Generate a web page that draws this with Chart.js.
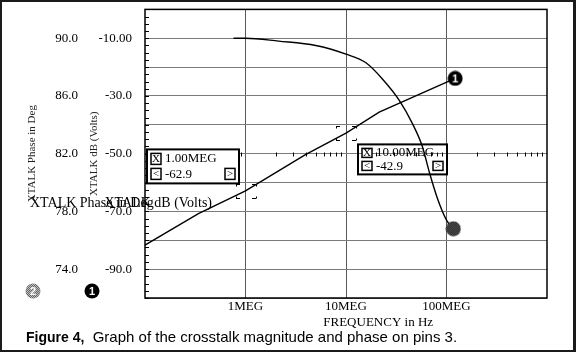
<!DOCTYPE html>
<html>
<head>
<meta charset="utf-8">
<script src="https://cdn.jsdelivr.net/npm/chart.js@4.4.1/dist/chart.umd.min.js"></script>
<style>
    html, body { margin: 0; padding: 0; background: #fff; }
    #wrap { position: relative; width: 576px; height: 352px; overflow: hidden; }
    #chart { position: absolute; left: 0; top: 0; }
    #frame {
        position: absolute; left: 0; top: 0; width: 576px; height: 352px;
        box-sizing: border-box; border: 2px solid #1a1a1a; border-right-width: 3px;
        pointer-events: none;
    }
    #caption {
        position: absolute; left: 26px; top: 328px;
        font: 15px "Liberation Sans", Arial, sans-serif; color: #000; white-space: pre;
    }
    #caption b { font-size: 14px; }
</style>
</head>
<body>
<div id="wrap">
    <canvas id="chart" width="576" height="352"></canvas>
    <div id="frame"></div>
    <div id="caption"><b>Figure 4,</b>  Graph of the crosstalk magnitude and phase on pins 3.</div>
</div>
<script>
// Данные

// Амплитуда перекрёстной помехи, dB
const magFreq = [1e5, 3.4e5, 1e6, 3.95e6, 1e7, 2.14e7, 1.22e8];
const magDb = [-81.7, -70.8, -62.9, -50.3, -42.9, -35.6, -23.9];

// Фаза, градусы
const phaseFreq = [7.6e5, 1e6, 2.14e6, 5e6, 1e7, 1.58e7, 2.29e7, 3.39e7, 4.57e7, 5.75e7, 6.76e7, 8.13e7, 1e8, 1.17e8];
const phaseDeg = [90.0, 90.0, 89.8, 89.5, 88.9, 88.3, 87.2, 85.7, 84.1, 82.5, 80.7, 78.9, 77.4, 76.8];

// Подписи осей
const freqTickValues = [1e6, 1e7, 1e8];
const freqTickLabels = ['1MEG', '10MEG', '100MEG'];
const dbTickValues = [-10, -30, -50, -70, -90];
const dbTickLabels = ['-10.00', '-30.0', '-50.0', '-70.0', '-90.0'];
const phaseTickValues = [74, 78, 82, 86, 90];
const phaseTickLabels = ['74.0', '78.0', '82.0', '86.0', '90.0'];

// Курсоры (окошки с отсчётами)
const cursorFreq = [1e6, 1e7];
const cursorFreqLabels = ['1.00MEG', '10.00MEG'];
const cursorDb = [-62.9, -42.9];

const serif = '"Liberation Serif", "Times New Roman", serif';
const tickFont = { family: serif, size: 13 };

// Значки маркеров 1 и 2
function makeMarker(label, dark, light, textColor) {
    const c = document.createElement('canvas');
    c.width = 16;
    c.height = 16;
    const g = c.getContext('2d');
    g.save();
    g.beginPath();
    g.arc(8, 8, 7.5, 0, Math.PI * 2);
    g.clip();
    for (let yy = 0; yy < 16; yy++) {
        for (let xx = 0; xx < 16; xx++) {
            g.fillStyle = (xx + yy) % 2 ? dark : light;
            g.fillRect(xx, yy, 1, 1);
        }
    }
    g.restore();
    if (label) {
        g.fillStyle = textColor;
        g.font = 'bold 11px "Liberation Sans", Arial, sans-serif';
        g.textAlign = 'center';
        g.textBaseline = 'middle';
        g.fillText(label, 8, 8.5);
    }
    return c;
}

const marker1 = makeMarker('1', '#000', '#000', '#fff');
const marker2 = makeMarker('', '#000', '#7a7a7a', '#fff');
const legend2 = makeMarker('2', '#666', '#bdbdbd', '#fff');

function lastOnly(len, r) {
    return ctx => (ctx.dataIndex === len - 1 ? r : 0);
}

// убираем отступы под крайние подписи, чтобы область графика шла от самого верха
function noEdgePadding(s) {
    s.paddingTop = 0;
    s.paddingBottom = 0;
}

// Маленькая иконка-кнопка в окошке курсора
function drawIcon(g, x, y, w, h, glyph) {
    g.fillStyle = '#fff';
    g.fillRect(x, y, w, h);
    g.strokeStyle = '#000';
    g.lineWidth = 1.5;
    g.strokeRect(x, y, w, h);
    g.fillStyle = '#000';
    g.font = '11px ' + serif;
    g.textAlign = 'center';
    g.textBaseline = 'middle';
    g.fillText(glyph, x + w / 2, y + h / 2 + 0.5);
}

function drawReadout(g, x0, y0, w, h, freqText, valText, fill) {
    if (fill) {
        g.fillStyle = '#fff';
        g.fillRect(x0, y0, w, h);
    }
    g.strokeStyle = '#000';
    g.lineWidth = 2;
    g.strokeRect(x0, y0, w, h);
    const rowH = h / 2;
    drawIcon(g, x0 + 4, y0 + 4, 10, rowH - 6, 'X');
    drawIcon(g, x0 + 4, y0 + rowH + 2, 10, rowH - 6, '<');
    drawIcon(g, x0 + w - 14, y0 + rowH + 2, 10, rowH - 6, '>');
    g.fillStyle = '#000';
    g.font = '13px ' + serif;
    g.textAlign = 'left';
    g.textBaseline = 'middle';
    g.fillText(freqText, x0 + 18, y0 + rowH / 2 + 1);
    g.fillText(valText, x0 + 18, y0 + rowH * 1.5);
}

const extrasPlugin = {
    id: 'extras',
    afterDraw(chart) {
        const g = chart.ctx;
        const a = chart.chartArea;
        const xs = chart.scales.x;
        const ys = chart.scales.y;
        g.save();

        // мелкие риски на левой границе
        g.strokeStyle = '#000';
        g.lineWidth = 1;
        g.beginPath();
        for (let v = -100; v <= 0; v += 2.5) {
            const py = Math.round(ys.getPixelForValue(v)) + 0.5;
            g.moveTo(a.left, py);
            g.lineTo(a.left + 4, py);
        }
        // логарифмические риски вдоль линии -50
        const yMid = Math.round(ys.getPixelForValue(-50)) + 0.5;
        for (let d = 1e5; d < 1e9; d *= 10) {
            for (let m = 2; m <= 9; m++) {
                const px = Math.round(xs.getPixelForValue(d * m)) + 0.5;
                g.moveTo(px, yMid - 2);
                g.lineTo(px, yMid + 2);
            }
        }
        g.stroke();

        // рамка области графика
        g.strokeStyle = '#000';
        g.lineWidth = 1.5;
        g.strokeRect(a.left, a.top, a.right - a.left, a.bottom - a.top);

        // скобки курсоров
        g.lineWidth = 1;
        g.beginPath();
        cursorFreq.forEach((f, i) => {
            const cx = Math.round(xs.getPixelForValue(f));
            const cy = Math.round(ys.getPixelForValue(cursorDb[i]));
            [[-1, -1], [1, -1], [-1, 1], [1, 1]].forEach(([sx, sy]) => {
                const mx = cx + sx * 8;
                const my = cy + sy * 7 + 0.5;
                g.moveTo(mx - 2, my);
                g.lineTo(mx + 2, my);
                g.moveTo(mx + sx * 2 + 0.5, my);
                g.lineTo(mx + sx * 2 + 0.5, my - sy * 2);
            });
        });
        g.stroke();

        // окошки отсчётов
        drawReadout(g, a.left + 2, a.top + 140, 92, 34,
            cursorFreqLabels[0], cursorDb[0].toFixed(1), true);
        drawReadout(g, a.left + 213, a.top + 135, 89, 30,
            cursorFreqLabels[1], cursorDb[1].toFixed(1), false);

        // подпись оси X
        g.fillStyle = '#000';
        g.font = '13px ' + serif;
        g.textAlign = 'center';
        g.textBaseline = 'middle';
        g.fillText('FREQUENCY in Hz', a.left + (a.right - a.left) * 0.58, a.bottom + 25);

        // горизонтальные (наложенные) подписи осей
        g.font = '14px ' + serif;
        g.textAlign = 'left';
        g.fillText('XTALK Phase in Deg', 30, 203);
        g.textAlign = 'right';
        g.fillText('XTALK dB (Volts)', 212, 203);

        // значки серий под осями
        g.drawImage(legend2, 33 - 8, a.bottom - 15);
        g.drawImage(marker1, 92 - 8, a.bottom - 15);

        g.restore();
    }
};

const ctx = document.getElementById('chart');

new Chart(ctx, {
    type: 'line',
    data: {
        datasets: [
            {
                label: 'XTALK Phase in Deg',
                data: phaseFreq.map((f, i) => ({ x: f, y: phaseDeg[i] })),
                yAxisID: 'y2',
                borderColor: '#000',
                borderWidth: 1.4,
                cubicInterpolationMode: 'monotone',
                pointRadius: lastOnly(phaseFreq.length, 8),
                pointStyle: marker2
            },
            {
                label: 'XTALK dB (Volts)',
                data: magFreq.map((f, i) => ({ x: f, y: magDb[i] })),
                yAxisID: 'y',
                borderColor: '#000',
                borderWidth: 1.4,
                tension: 0,
                pointRadius: lastOnly(magFreq.length, 8),
                pointStyle: marker1
            }
        ]
    },
    options: {
        responsive: false,
        animation: false,
        events: [],
        layout: {
            padding: { top: 8, right: 29, bottom: 19, left: 0 }
        },
        plugins: {
            legend: { display: false },
            tooltip: { enabled: false }
        },
        scales: {
            x: {
                type: 'logarithmic',
                min: 1e5,
                max: 1e9,
                afterBuildTicks: s => { s.ticks = freqTickValues.map(v => ({ value: v })); },
                afterFit: s => {
                    s.height = 35;
                    s.paddingLeft = 0;
                    s.paddingRight = 0;
                },
                ticks: {
                    callback: (v, i) => freqTickLabels[i],
                    font: tickFont,
                    color: '#000',
                    padding: 1,
                    maxRotation: 0,
                    autoSkip: false
                },
                grid: { color: '#5a5a5a', drawTicks: false },
                border: { display: false }
            },
            y: {
                position: 'left',
                weight: 0,
                min: -100,
                max: 0,
                afterFit: s => {
                    s.width = 63;
                    noEdgePadding(s);
                },
                ticks: {
                    stepSize: 10,
                    autoSkip: false,
                    callback: v => {
                        const i = dbTickValues.indexOf(v);
                        return i < 0 ? '' : dbTickLabels[i];
                    },
                    font: tickFont,
                    color: '#000',
                    padding: 13
                },
                grid: { color: '#7a7a7a', drawTicks: false },
                border: { display: false },
                title: {
                    display: true,
                    text: 'XTALK dB (Volts)',
                    font: { family: serif, size: 11 },
                    color: '#222',
                    padding: { top: 6, bottom: 0 }
                }
            },
            y2: {
                position: 'left',
                weight: 1,
                min: 72,
                max: 92,
                afterBuildTicks: s => { s.ticks = phaseTickValues.map(v => ({ value: v })); },
                afterFit: s => {
                    s.width = 82;
                    noEdgePadding(s);
                },
                ticks: {
                    callback: (v, i) => phaseTickLabels[i],
                    font: tickFont,
                    color: '#000',
                    padding: 4,
                    autoSkip: false
                },
                grid: { display: false, drawTicks: false },
                border: { display: false },
                title: {
                    display: true,
                    text: 'XTALK Phase in Deg',
                    font: { family: serif, size: 11 },
                    color: '#222',
                    padding: { top: 26, bottom: 0 }
                }
            }
        }
    },
    plugins: [extrasPlugin]
});
</script>
</body>
</html>
